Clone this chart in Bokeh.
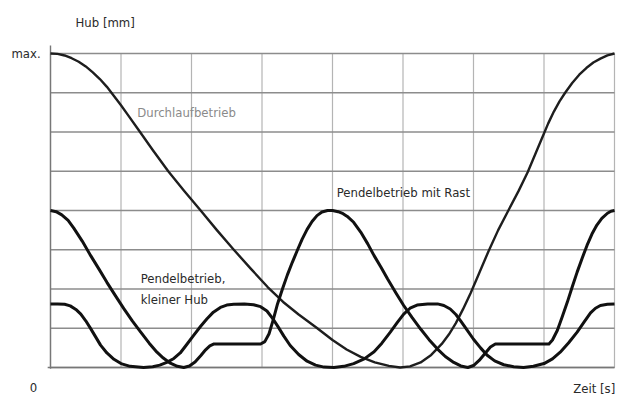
from bokeh.plotting import figure
from bokeh.models import Range1d, Label
from bokeh.embed import file_html
from bokeh.resources import INLINE

# grid positions (time and stroke in grid units; max stroke = 8)
x_grid = [0, 1, 2, 3, 4, 5, 6, 7, 8]
y_grid = [0, 1, 2, 3, 4, 5, 6, 7, 8]

# Durchlaufbetrieb
t_durchlauf = [0.00, 0.10, 0.20, 0.30, 0.40, 0.50, 0.60, 0.70, 0.80, 0.90, 1.00, 1.10, 1.25,
               1.45, 1.67, 1.90, 2.13, 2.36, 2.60, 2.84, 3.08, 3.30, 3.52, 3.77, 4.00, 4.20,
               4.40, 4.60, 4.80, 4.96, 5.10, 5.25, 5.40, 5.55, 5.65, 5.75, 5.85, 5.96, 6.08,
               6.21, 6.35, 6.50, 6.64, 6.77, 6.88, 6.98, 7.06, 7.14, 7.22, 7.30, 7.40, 7.50,
               7.60, 7.70, 7.80, 7.90, 8.00]
hub_durchlauf = [8.00, 7.99, 7.95, 7.88, 7.79, 7.67, 7.52, 7.35, 7.15, 6.92, 6.68, 6.43, 6.05,
                 5.54, 5.00, 4.49, 4.00, 3.50, 3.00, 2.52, 2.05, 1.67, 1.35, 1.02, 0.70, 0.46,
                 0.27, 0.13, 0.04, 0.00, 0.03, 0.13, 0.32, 0.60, 0.84, 1.13, 1.48, 1.90, 2.40,
                 2.95, 3.50, 4.02, 4.50, 4.98, 5.45, 5.88, 6.22, 6.52, 6.78, 7.00, 7.25, 7.46,
                 7.63, 7.77, 7.87, 7.95, 8.00]

# Pendelbetrieb mit Rast
t_rast = [0.00, 0.08, 0.16, 0.25, 0.33, 0.45, 0.57, 0.69, 0.80, 0.92, 1.04, 1.16, 1.28, 1.40,
          1.51, 1.60, 1.70, 1.80, 1.89, 1.97, 2.05, 2.13, 2.20, 2.26, 2.32, 2.98, 3.04, 3.10,
          3.16, 3.22, 3.29, 3.36, 3.43, 3.50, 3.57, 3.64, 3.71, 3.78, 3.85, 3.93, 4.00, 4.08,
          4.15, 4.21, 4.30, 4.40, 4.50, 4.59, 4.69, 4.78, 4.90, 5.01, 5.13, 5.25, 5.37, 5.49,
          5.60, 5.72, 5.82, 5.92, 6.00, 6.08, 6.16, 6.24, 6.31, 7.07, 7.12, 7.19, 7.26, 7.33,
          7.40, 7.47, 7.54, 7.61, 7.68, 7.75, 7.82, 7.90, 7.95, 8.00]
hub_rast = [4.00, 3.97, 3.89, 3.75, 3.55, 3.22, 2.85, 2.50, 2.17, 1.83, 1.50, 1.19, 0.90, 0.62,
            0.39, 0.24, 0.11, 0.03, 0.00, 0.04, 0.14, 0.30, 0.45, 0.55, 0.60, 0.60, 0.66, 0.86,
            1.22, 1.62, 2.00, 2.36, 2.68, 2.98, 3.27, 3.52, 3.72, 3.87, 3.96, 4.00, 4.00, 3.97,
            3.92, 3.85, 3.70, 3.45, 3.15, 2.85, 2.55, 2.26, 1.90, 1.58, 1.27, 0.98, 0.71, 0.47,
            0.28, 0.13, 0.04, 0.00, 0.05, 0.18, 0.35, 0.52, 0.60, 0.60, 0.70, 0.95, 1.30, 1.66,
            2.05, 2.43, 2.78, 3.11, 3.40, 3.63, 3.80, 3.93, 3.98, 4.00]

# Pendelbetrieb, kleiner Hub
t_klein = [0.00, 0.10, 0.20, 0.28, 0.36, 0.43, 0.50, 0.57, 0.64, 0.71, 0.80, 0.90, 1.00, 1.13,
           1.32, 1.45, 1.55, 1.65, 1.75, 1.84, 1.93, 2.03, 2.13, 2.22, 2.31, 2.41, 2.50, 2.60,
           2.75, 2.88, 2.98, 3.07, 3.15, 3.22, 3.31, 3.40, 3.52, 3.64, 3.76, 3.88, 4.02, 4.16,
           4.30, 4.45, 4.59, 4.70, 4.82, 4.92, 5.01, 5.10, 5.20, 5.35, 5.49, 5.58, 5.67, 5.75,
           5.82, 5.91, 6.00, 6.10, 6.19, 6.30, 6.43, 6.57, 6.71, 6.85, 7.00, 7.12, 7.23, 7.35,
           7.47, 7.57, 7.66, 7.73, 7.80, 7.90, 8.00]
hub_klein = [1.62, 1.62, 1.61, 1.57, 1.48, 1.36, 1.19, 0.99, 0.78, 0.57, 0.37, 0.21, 0.10, 0.03,
             0.00, 0.02, 0.06, 0.13, 0.23, 0.37, 0.58, 0.82, 1.05, 1.24, 1.41, 1.53, 1.59, 1.61,
             1.62, 1.60, 1.55, 1.44, 1.25, 1.06, 0.80, 0.56, 0.33, 0.16, 0.06, 0.01, 0.00, 0.03,
             0.10, 0.22, 0.40, 0.62, 0.90, 1.15, 1.36, 1.51, 1.59, 1.62, 1.62, 1.58, 1.49, 1.35,
             1.18, 0.95, 0.72, 0.50, 0.32, 0.17, 0.07, 0.02, 0.00, 0.03, 0.10, 0.22, 0.39, 0.63,
             0.90, 1.16, 1.39, 1.51, 1.58, 1.61, 1.62]

PX_X = 70.5   # pixels per time unit
PX_Y = 39.25  # pixels per stroke unit

p = figure(width=618, height=397, output_backend="svg", toolbar_location=None,
           x_range=Range1d(-50 / PX_X, 8 + 4 / PX_X),
           y_range=Range1d(-30 / PX_Y, 8 + 53 / PX_Y),
           min_border_left=0, min_border_right=0, min_border_top=0, min_border_bottom=0)
p.xaxis.visible = False
p.yaxis.visible = False
p.grid.visible = False
p.outline_line_color = None
p.background_fill_color = "white"
p.border_fill_color = "white"

# grid lines
p.segment(x0=x_grid, y0=[0] * len(x_grid), x1=x_grid, y1=[8] * len(x_grid),
          line_color="#b4b4b4", line_width=1.2)
p.segment(x0=[0] * len(y_grid), y0=y_grid, x1=[8] * len(y_grid), y1=y_grid,
          line_color="#8c8c8c", line_width=1.4)

# axis lines
p.line(x=[0, 0], y=[-0.03, 8 + 8 / PX_Y], line_color="#777777", line_width=1.4)
p.line(x=[-0.04, 8], y=[0, 0], line_color="#777777", line_width=1.4)

p.line(t_durchlauf, hub_durchlauf, line_color="#1e1e1e", line_width=2.4, line_join="round")
p.line(t_rast, hub_rast, line_color="#111111", line_width=3, line_join="round")
p.line(t_klein, hub_klein, line_color="#111111", line_width=3, line_join="round")

FONT = "DejaVu Sans Condensed"

def lab(x, y, text, align="left", color="#2a2a2a", size="13px"):
    p.add_layout(Label(x=x, y=y, text=text, text_align=align, text_baseline="middle",
                       text_font=FONT, text_font_size=size, text_color=color))

lab(-0.14, 8.0, "max.", align="right")
lab(-0.24, -0.51, "0", align="center")
lab(0.355, 8.79, "Hub [mm]")
lab(8.01, -0.535, "Zeit [s]", align="right")
lab(1.23, 6.50, "Durchlaufbetrieb", color="#8a8a8a")
lab(4.06, 4.46, "Pendelbetrieb mit Rast")
lab(1.28, 2.27, "Pendelbetrieb,")
lab(1.28, 1.73, "kleiner Hub")

open("out.html", "w").write(file_html(p, INLINE))
